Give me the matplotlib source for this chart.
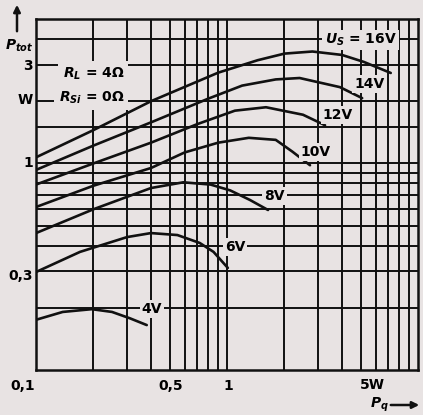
import matplotlib.pyplot as plt

plt.rcParams['font.family'] = ['Liberation Sans Narrow', 'DejaVu Sans']
plt.rcParams['font.weight'] = 'bold'
plt.rcParams['mathtext.fontset'] = 'custom'
plt.rcParams['mathtext.rm'] = 'Liberation Sans Narrow:bold'
plt.rcParams['mathtext.it'] = 'Liberation Sans Narrow:italic:bold'

# Dados (P_q em W, P_tot em W)
pq_16v = [0.1, 0.2, 0.4, 0.9, 1.45, 2.0, 2.8, 4.0, 5.2, 7.2]
ptot_16v = [1.07, 1.45, 2.0, 2.75, 3.16, 3.40, 3.48, 3.35, 3.10, 2.74]

pq_14v = [0.1, 0.2, 0.4, 0.8, 1.2, 1.8, 2.4, 3.9, 5.1]
ptot_14v = [0.93, 1.22, 1.58, 2.06, 2.38, 2.55, 2.59, 2.34, 2.07]

pq_12v = [0.1, 0.2, 0.4, 0.7, 1.1, 1.6, 2.5, 3.26]
ptot_12v = [0.79, 1.0, 1.26, 1.55, 1.80, 1.87, 1.72, 1.53]

pq_10v = [0.1, 0.2, 0.4, 0.6, 0.9, 1.3, 1.8, 2.2, 2.72]
ptot_10v = [0.615, 0.78, 0.95, 1.13, 1.26, 1.33, 1.30, 1.14, 0.98]

pq_8v = [0.1, 0.2, 0.4, 0.59, 0.82, 1.04, 1.32, 1.64]
ptot_8v = [0.46, 0.60, 0.76, 0.81, 0.79, 0.74, 0.665, 0.595]

pq_6v = [0.1, 0.17, 0.3, 0.4, 0.55, 0.72, 0.85, 1.01]
ptot_6v = [0.298, 0.373, 0.44, 0.46, 0.45, 0.412, 0.373, 0.312]

pq_4v = [0.1, 0.138, 0.196, 0.25, 0.31, 0.38]
ptot_4v = [0.175, 0.191, 0.197, 0.191, 0.178, 0.165]

# Grade do papel
grade_x = [0.2, 0.3, 0.4, 0.5, 0.6, 0.7, 0.8, 0.9, 1, 2, 3, 4, 5, 6, 7, 8, 9]
grade_y = [0.2, 0.3, 0.4, 0.5, 0.6, 0.7, 0.8, 0.9, 1, 1.5, 2, 3, 4]

curvas = [
    (pq_16v, ptot_16v, "$U_S$ = 16V", 5.0, 3.95),
    (pq_14v, ptot_14v, "14V", 5.55, 2.42),
    (pq_12v, ptot_12v, "12V", 3.8, 1.71),
    (pq_10v, ptot_10v, "10V", 2.92, 1.135),
    (pq_8v, ptot_8v, "8V", 1.78, 0.695),
    (pq_6v, ptot_6v, "6V", 1.10, 0.395),
    (pq_4v, ptot_4v, "4V", 0.405, 0.197),
]

fundo = '#e8e3e3'
W, H = 423, 415

fig = plt.figure(figsize=(W / 100, H / 100), dpi=100, facecolor=fundo)
ax = fig.add_axes([36 / W, 1 - 370 / H, 382 / W, 351 / H], facecolor=fundo)
ax.set_xscale('log')
ax.set_yscale('log')
ax.set_xlim(0.1, 10)
ax.set_ylim(0.1, 5)

ax.set_xticks(grade_x)
ax.set_yticks(grade_y)
ax.set_xticks([], minor=True)
ax.set_yticks([], minor=True)
ax.tick_params(which='both', length=0, labelbottom=False, labelleft=False)
ax.grid(True, color='#111111', linewidth=1.4)
for s in ax.spines.values():
    s.set_linewidth(1.8)
    s.set_color('#111111')

for pq, ptot, rotulo, lx, ly in curvas:
    ax.plot(pq, ptot, color='#111111', linewidth=1.9, solid_capstyle='round')
    ax.text(lx, ly, rotulo, ha='center', va='center', fontsize=10,
            bbox=dict(facecolor=fundo, edgecolor='none', pad=1.5))

ax.text(0.15, 0.845, "$R_L$ = 4Ω", transform=ax.transAxes, ha='center',
        va='center', fontsize=10, bbox=dict(facecolor=fundo, edgecolor='none', pad=3))
ax.text(0.145, 0.775, "$R_{Si}$ = 0Ω", transform=ax.transAxes, ha='center',
        va='center', fontsize=10, bbox=dict(facecolor=fundo, edgecolor='none', pad=3))


def px(x, y):
    return x / W, 1 - y / H


# Rótulos dos eixos
for texto, x, y in [("3", 33, 66), ("W", 33, 100), ("1", 33, 163), ("0,3", 33, 276)]:
    fig.text(*px(x, y), texto, ha='right', va='center', fontsize=10)

for texto, x in [("0,1", 23), ("0,5", 171), ("1", 228)]:
    fig.text(*px(x, 386), texto, ha='center', va='center', fontsize=10)
fig.text(*px(360, 385), "5W", ha='left', va='center', fontsize=10)

fig.text(*px(379, 405), "$P_q$", ha='center', va='center', fontsize=10)
fig.text(*px(19, 46), "$P_{tot}$", ha='center', va='center', fontsize=10)

ax.annotate('', xy=px(422, 405), xytext=px(388, 405), xycoords='figure fraction',
            arrowprops=dict(arrowstyle='-|>', color='#111111', lw=1.8))
ax.annotate('', xy=px(17, 2), xytext=px(17, 34), xycoords='figure fraction',
            arrowprops=dict(arrowstyle='-|>', color='#111111', lw=1.8))

fig.savefig('out.png', dpi=100, facecolor=fundo)
